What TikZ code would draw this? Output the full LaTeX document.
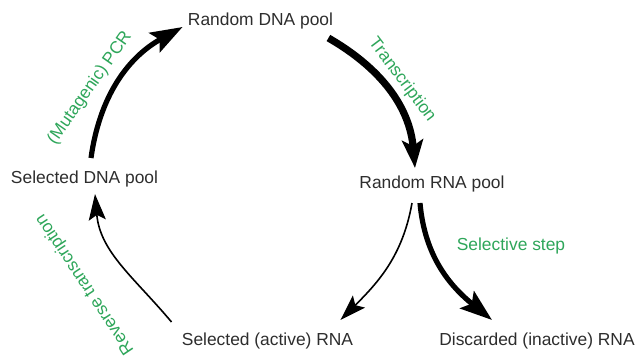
\documentclass[tikz,border=0pt]{standalone}
\usepackage{fontspec}
\setmainfont{Liberation Sans}
\usetikzlibrary{arrows.meta}
\definecolor{stagegreen}{RGB}{46,166,90}
\definecolor{poolgray}{RGB}{45,45,45}

\begin{document}
\begin{tikzpicture}[x=0.5pt,y=0.5pt]
			\tikzstyle{pool} = [
				text = poolgray, inner sep = 0pt, anchor = base,
				font = \fontsize{8.7}{10}\selectfont
			]
			\tikzstyle{stage} = [
				text = stagegreen, inner sep = 0pt,
				font = \fontsize{8.7}{10}\selectfont
			]
			\tikzstyle{heavy}=[draw=black,line width=2.6pt,-{Stealth[length=16pt,width=11pt,inset=3pt]}]
			\tikzstyle{medium}=[draw=black,line width=3.6pt,-{Stealth[length=14pt,width=10.5pt,inset=3pt]}]
			\tikzstyle{light}=[draw=black,line width=0.8pt,-{Stealth[length=13pt,width=8.5pt,inset=2.5pt]}]
			\useasboundingbox (0,0) rectangle (637,360);
			\node[pool] (rdna) at (260.5,335) {Random DNA pool};
			\node[pool] (sdna) at (84.5,177) {Selected DNA pool};
			\node[pool] (rrna) at (432,172) {Random RNA pool};
			\node[pool] (srna) at (267.5,15) {Selected (active) RNA};
			\node[pool] (drna) at (537,15) {Discarded (inactive) RNA};
			\node[stage, rotate=55] (pcr) at (90,272) {(Mutagenic) PCR};
			\node[stage, rotate=-53] (tx) at (402,280) {Transcription};
			\node[stage, rotate=123.5] (rt) at (85,76) {Reverse transcription};
			\node[stage, anchor=base] (sel) at (511,110) {Selective step};
			\draw ([shift={(6.5,12)}]sdna.north) to[out=82,in=209] ([shift={(-5,-6.5)}]rdna.west) [heavy];
			\draw ([shift={(-5,-9)}]rdna.south east) to[out=-30,in=95] ([shift={(-17,7)}]rrna.north) [medium];
			\draw ([shift={(-10,10)}]srna.north west) to[out=130,in=-85] ([shift={(10.5,-7)}]sdna.south) [light];
			\draw ([shift={(-20,-11)}]rrna.south) to[out=-100,in=45] ([shift={(-13,12)}]srna.north east) [light];
			\draw ([shift={(-12,-11)}]rrna.south) to[out=-85,in=141] ([shift={(-45,12)}]drna.north) [heavy];
		\end{tikzpicture}
\end{document}
